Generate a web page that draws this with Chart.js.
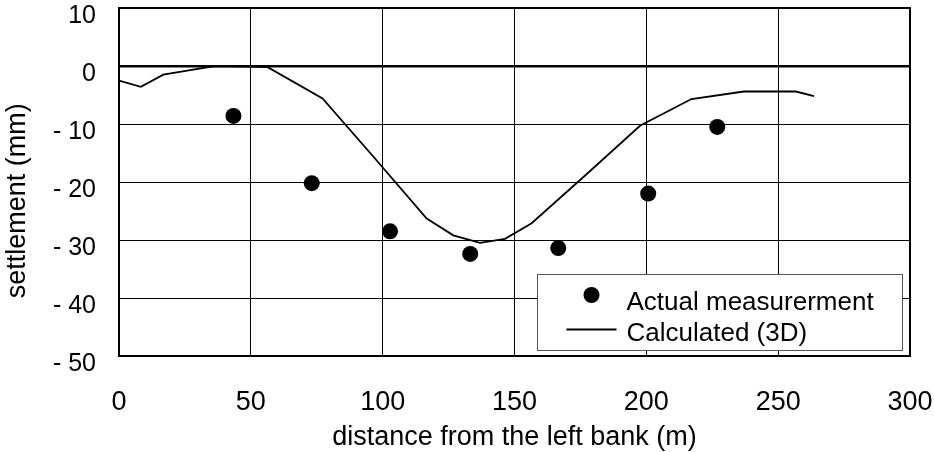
<!DOCTYPE html>
<html>
<head>
<meta charset="utf-8">
<script src="https://cdn.jsdelivr.net/npm/chart.js@4.4.0/dist/chart.umd.min.js"></script>
<style>
  html, body { margin: 0; padding: 0; background: #fff; }
  #wrap { width: 934px; height: 452px; }
  canvas { display: block; }
</style>
</head>
<body>
<div id="wrap"><canvas id="chart" width="934" height="452"></canvas></div>
<script>
// Measured settlement points along the cross-section
const measuredDistance   = [43.4, 73.1, 102.8, 133.2, 166.6, 200.7, 226.9];
const measuredSettlement = [-8.6, -20.2, -28.5, -32.4, -31.4, -22.0, -10.5];

// 3D analysis result
const calcDistance   = [0, 8.3, 16.8, 27, 36.4, 46.5, 56.4, 77.2, 97, 116.7, 126.8, 136.9, 146.4, 156.5, 177, 197.6, 217.1, 237, 256.7, 263.6];
const calcSettlement = [-2.5, -3.6, -1.5, -0.7, 0, -0.1, -0.2, -5.6, -15.9, -26.3, -29.2, -30.5, -29.8, -27.1, -18.8, -10.3, -5.7, -4.4, -4.4, -5.2];

// Axis ticks and labels
const xTicks = [0, 50, 100, 150, 200, 250, 300];
const yTicks = [10, 0, -10, -20, -30, -40, -50];
const seriesNames = ['Actual measurerment', 'Calculated (3D)'];
const xTitle = 'distance from the left bank (m)';
const yTitle = 'settlement (mm)';

const FONT = '"Liberation Sans", Arial, sans-serif';

const toPoints = (xs, ys) => xs.map((x, i) => ({ x: x, y: ys[i] }));
const fmtY = v => (v < 0 ? '- ' + Math.abs(v) : String(v));

// Boxed legend drawn inside the plot area, lower right
const boxLegend = {
  id: 'boxLegend',
  afterDatasetsDraw(chart) {
    const ctx = chart.ctx;
    const a = chart.chartArea;
    const x0 = Math.round(a.right - 373) + 0.5;
    const y0 = Math.round(a.bottom - 82) + 0.5;
    const w = 365, h = 76;
    const dsPts = chart.data.datasets[0];
    const dsLine = chart.data.datasets[1];
    ctx.save();
    ctx.fillStyle = '#ffffff';
    ctx.fillRect(x0, y0, w, h);
    ctx.strokeStyle = '#555555';
    ctx.lineWidth = 1;
    ctx.strokeRect(x0, y0, w, h);

    // marker entry
    ctx.fillStyle = dsPts.pointBackgroundColor;
    ctx.beginPath();
    ctx.arc(x0 + 54, y0 + 20.5, dsPts.pointRadius, 0, Math.PI * 2);
    ctx.fill();

    // line entry
    ctx.strokeStyle = dsLine.borderColor;
    ctx.lineWidth = dsLine.borderWidth;
    ctx.beginPath();
    ctx.moveTo(x0 + 29, y0 + 55);
    ctx.lineTo(x0 + 79, y0 + 55);
    ctx.stroke();

    ctx.fillStyle = '#000000';
    ctx.font = '26px ' + FONT;
    ctx.textAlign = 'left';
    ctx.textBaseline = 'alphabetic';
    ctx.fillText(dsPts.label, x0 + 89, y0 + 35.5);
    ctx.fillText(dsLine.label, x0 + 89, y0 + 66.5);
    ctx.restore();
  }
};

// Heavy frame round the plot area
const plotFrame = {
  id: 'plotFrame',
  beforeDatasetsDraw(chart) {
    const ctx = chart.ctx;
    const a = chart.chartArea;
    ctx.save();
    ctx.strokeStyle = '#000';
    ctx.lineWidth = 2;
    ctx.strokeRect(a.left, a.top, a.right - a.left, a.bottom - a.top);
    ctx.restore();
  }
};

new Chart(document.getElementById('chart'), {
  type: 'scatter',
  data: {
    datasets: [
      {
        label: seriesNames[0],
        data: toPoints(measuredDistance, measuredSettlement),
        showLine: false,
        pointRadius: 8,
        pointHoverRadius: 8,
        pointBackgroundColor: '#000000',
        pointBorderColor: '#000000',
        pointBorderWidth: 0,
        order: 1
      },
      {
        label: seriesNames[1],
        data: toPoints(calcDistance, calcSettlement),
        showLine: true,
        borderColor: '#000000',
        borderWidth: 1.8,
        pointRadius: 0,
        pointHoverRadius: 0,
        fill: false,
        tension: 0,
        order: 2
      }
    ]
  },
  options: {
    responsive: false,
    animation: false,
    devicePixelRatio: 1,
    layout: { padding: { top: 7, left: 0, right: 0, bottom: 0 } },
    plugins: {
      legend: { display: false },
      tooltip: { enabled: false }
    },
    scales: {
      x: {
        type: 'linear',
        min: xTicks[0],
        max: xTicks[xTicks.length - 1],
        afterBuildTicks: s => { s.ticks = xTicks.map(v => ({ value: v })); },
        afterFit: s => { s.height = 96; s.paddingLeft = 0; s.paddingRight = 24; },
        border: { display: true, color: '#000', width: 2 },
        grid: {
          color: '#000',
          lineWidth: 1,
          drawTicks: false
        },
        ticks: {
          color: '#000',
          padding: 33,
          maxRotation: 0,
          autoSkip: false,
          font: { family: FONT, size: 27, lineHeight: 1 }
        },
        title: {
          display: true,
          text: xTitle,
          color: '#000',
          padding: { top: 0, bottom: 1 },
          font: { family: FONT, size: 27, lineHeight: 1 }
        }
      },
      y: {
        type: 'linear',
        min: yTicks[yTicks.length - 1],
        max: yTicks[0],
        afterBuildTicks: s => { s.ticks = yTicks.slice().reverse().map(v => ({ value: v })); },
        afterFit: s => { s.width = 119; s.paddingTop = 0; s.paddingBottom = 0; },
        border: { display: true, color: '#000', width: 2 },
        grid: {
          color: '#000',
          lineWidth: c => (c.tick && c.tick.value === 0 ? 2.5 : 1),
          drawTicks: false
        },
        ticks: {
          color: '#000',
          padding: 23,
          labelOffset: 8,
          autoSkip: false,
          callback: v => fmtY(v),
          font: { family: FONT, size: 25, lineHeight: 1 }
        },
        title: {
          display: true,
          // trailing spaces set the title a little below the axis middle
          text: yTitle + '     ',
          color: '#000',
          padding: { top: 4, bottom: 0 },
          font: { family: FONT, size: 27, lineHeight: 1 }
        }
      }
    }
  },
  plugins: [plotFrame, boxLegend]
});
</script>
</body>
</html>
